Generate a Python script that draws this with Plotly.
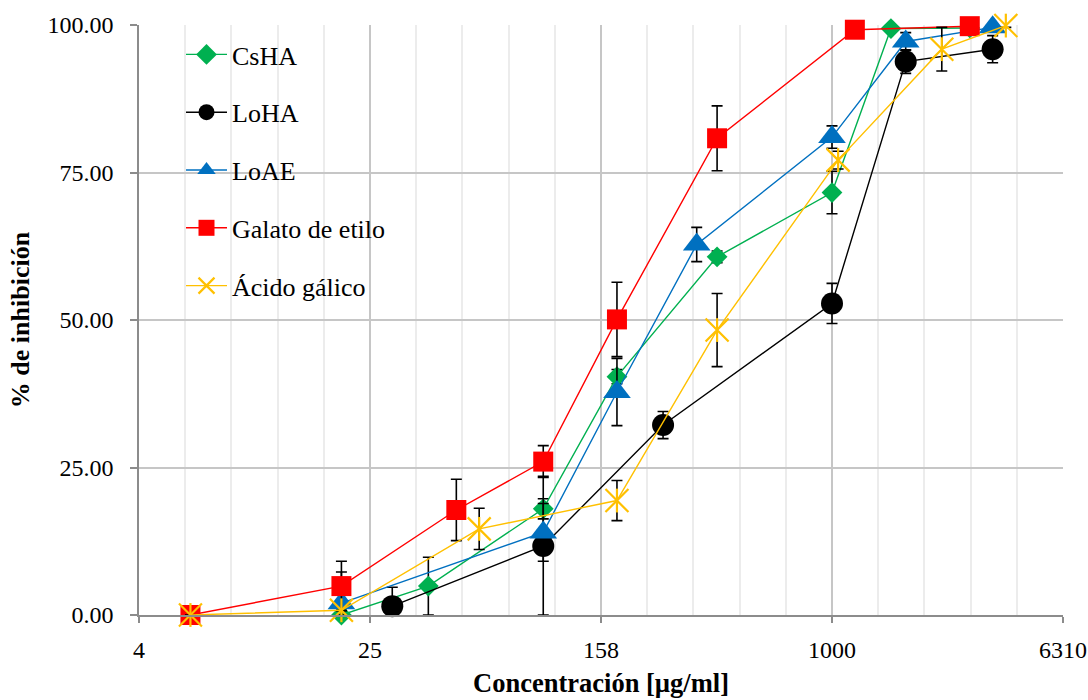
import plotly.graph_objects as go

# Concentration axis: log scale with major ticks every 0.8 decades
tick_exponents = [0.6, 1.4, 2.2, 3.0, 3.8]
tick_labels = ["4", "25", "158", "1000", "6310"]
inhib_ticks = [0, 25, 50, 75, 100]

# CsHA
csha_x = [20, 40, 100, 180, 400, 1000, 1600, 3000]
csha_y = [0.0, 4.9, 18.0, 40.4, 60.7, 71.6, 99.4, 99.5]
csha_err = [0.0, 4.9, 1.7, 1.2, 1.0, 3.6, 0.0, 0.0]

# LoHA
loha_x = [30, 100, 260, 1000, 1800, 3600]
loha_y = [1.5, 11.7, 32.2, 52.8, 93.8, 95.9]
loha_err = [3.2, 11.8, 2.3, 3.4, 2.0, 2.3]

# LoAE
loae_x = [20, 100, 180, 340, 1000, 1800, 3600]
loae_y = [2.0, 14.0, 37.8, 62.8, 81.0, 97.2, 99.6]
loae_err = [5.3, 4.9, 5.7, 2.9, 1.9, 1.5, 0.0]

# Galato de etilo
galato_x = [6, 20, 50, 100, 180, 400, 1200, 3000]
galato_y = [0.0, 4.9, 17.8, 26.0, 50.1, 80.8, 99.2, 99.8]
galato_err = [0.0, 4.2, 5.2, 2.7, 6.3, 5.5, 0.0, 0.0]

# Ácido gálico
acido_x = [6, 20, 60, 180, 400, 1050, 2400, 4000]
acido_y = [0.0, 0.8, 14.6, 19.4, 48.3, 77.1, 95.9, 99.9]
acido_err = [0.0, 0.0, 3.5, 3.4, 6.2, 1.5, 3.7, 0.3]

FONT = "Liberation Serif, Times New Roman, serif"
W, H = 1088, 700
ML, MR, MT, MB = 139, 25, 25, 85
PW, PH = W - ML - MR, H - MT - MB


def px_x(p):
    return (p - ML) / PW


def px_y(p):
    return (H - MB - p) / PH


def err_bars(vals, errs):
    # lower whiskers stop at the 0 % baseline
    return dict(
        type="data", symmetric=False,
        array=errs, arrayminus=[min(e, v) for v, e in zip(vals, errs)],
        color="black", thickness=1.6, width=5.5, visible=True,
    )


fig = go.Figure()

series = [
    ("CsHA", csha_x, csha_y, csha_err, "#00B050",
     dict(symbol="diamond", size=16, color="#00B050")),
    ("LoHA", loha_x, loha_y, loha_err, "#000000",
     dict(symbol="circle", size=22, color="#000000")),
    ("LoAE", loae_x, loae_y, loae_err, "#0070C0",
     dict(symbol="triangle-up", size=24, color="#0070C0")),
    ("Galato de etilo", galato_x, galato_y, galato_err, "#FF0000",
     dict(symbol="square", size=20, color="#FF0000")),
    ("Ácido gálico", acido_x, acido_y, acido_err, "#FFC000",
     dict(symbol="x-thin", size=23, color="#FFC000",
          line=dict(color="#FFC000", width=2.2))),
]

for i, (name, xs, ys, es, col, mk) in enumerate(series):
    fig.add_trace(go.Scatter(
        x=xs, y=ys, name=name, mode="lines+markers",
        line=dict(color=col, width=1.4), marker=mk,
        error_y=err_bars(ys, es), cliponaxis=False,
        legendgroup=f"g{i}",
    ))

# vertical stroke completing the six-armed star markers
fig.add_trace(go.Scatter(
    x=acido_x, y=acido_y, mode="markers", showlegend=False,
    legendgroup="g4", hoverinfo="skip", cliponaxis=False,
    marker=dict(symbol="line-ns", size=17,
                line=dict(color="#FFC000", width=2.2)),
))

minor_vals = [10 ** (0.6 + 0.16 * k) for k in range(21)]

fig.update_layout(
    width=W, height=H,
    margin=dict(l=ML, r=MR, t=MT, b=MB, pad=0),
    paper_bgcolor="white", plot_bgcolor="white",
    font=dict(family=FONT, size=24, color="black"),
    showlegend=True,
    legend=dict(
        x=px_x(181), y=px_y(31), xanchor="left", yanchor="top",
        bgcolor="rgba(0,0,0,0)", borderwidth=0,
        font=dict(family=FONT, size=26, color="black"),
        traceorder="grouped", tracegroupgap=21, itemwidth=41,
        itemclick=False,
    ),
    xaxis=dict(
        type="log", range=[0.6, 3.8],
        tickmode="array",
        tickvals=[10 ** e for e in tick_exponents], ticktext=tick_labels,
        showgrid=True, gridcolor="#C6C6C6", gridwidth=1.6,
        minor=dict(tickvals=minor_vals, showgrid=True,
                   gridcolor="#ECECEC", gridwidth=1.6, ticks=""),
        showline=True, linecolor="#8C8C8C", linewidth=1.6,
        ticks="outside", ticklen=6, tickcolor="#8C8C8C", tickwidth=1.6,
        ticklabelstandoff=6,
        tickfont=dict(family=FONT, size=24),
        title=dict(text="<b>Concentración [µg/ml]</b>", standoff=12,
                   font=dict(family=FONT, size=26.5)),
        zeroline=False, automargin=False,
    ),
    yaxis=dict(
        range=[0, 100], tickmode="array", tickvals=inhib_ticks,
        tickformat=".2f",
        showgrid=True, gridcolor="#C6C6C6", gridwidth=1.6,
        showline=True, linecolor="#8C8C8C", linewidth=1.6,
        ticks="outside", ticklen=7, tickcolor="#8C8C8C", tickwidth=1.6,
        ticklabelstandoff=12,
        tickfont=dict(family=FONT, size=24),
        title=dict(text="<b>% de inhibición</b>", standoff=10,
                   font=dict(family=FONT, size=26)),
        zeroline=False, automargin=False,
    ),
    shapes=[dict(
        type="rect", xref="paper", yref="paper", layer="between",
        x0=px_x(140), x1=px_x(425), y0=px_y(318), y1=px_y(27),
        fillcolor="white", line=dict(width=0),
    )],
)

fig.write_html("out.html")
